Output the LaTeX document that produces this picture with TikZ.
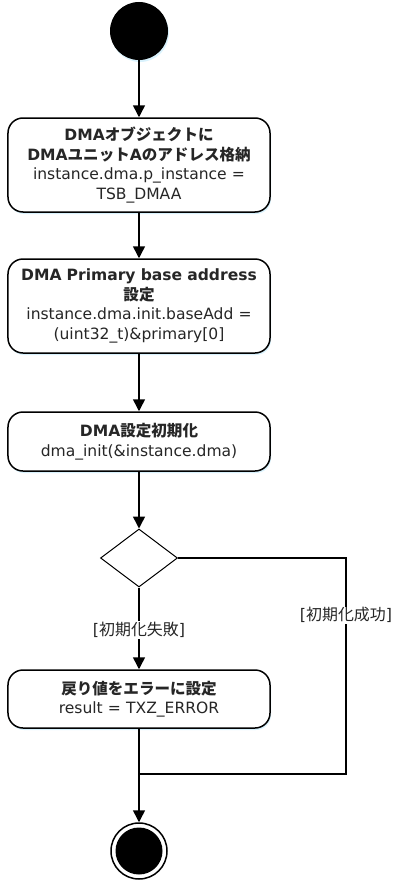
\documentclass[tikz,border=0pt]{standalone}
\usepackage{fontspec}
\setmainfont{DejaVu Sans}
\newfontfamily\jpfont{Noto Sans CJK JP}
\newcommand{\ja}[1]{{\jpfont #1}}
\usetikzlibrary{shapes.geometric,arrows.meta,shadows}

\begin{document}
\begin{tikzpicture}[x=1bp,y=-1bp,
	action/.style={shape=rectangle,rounded corners=15bp,draw=black,line width=1.5bp,fill=white,
		minimum width=262bp,text width=256bp,align=center,inner sep=0pt,
		font=\fontsize{15.6}{19.5}\selectfont,text=black!85,
		drop shadow={shadow xshift=1bp,shadow yshift=-2bp,fill=cyan!25!white,opacity=.6}},
	flow/.style={-{Triangle[length=12bp,width=12bp]},line width=1.5bp},
	guard/.style={fill=white,inner sep=1bp,font=\fontsize{16}{18}\selectfont,text=black!85}]
	
	\useasboundingbox (0,0) rectangle (395,881);
	
	\node[shape=circle,fill=black,minimum size=58bp,inner sep=0pt,
		drop shadow={shadow xshift=1bp,shadow yshift=-2bp,fill=cyan!25!white,opacity=.6}] (start) at (139,31) {};
	
	\node[action,minimum height=94bp] (objset) at (139,165)
		{\bfseries DMA\ja{オブジェクトに}\\DMA\ja{ユニット}A\ja{のアドレス格納}\\\mdseries instance.dma.p\_instance =\\TSB\_DMAA};
	\node[action,minimum height=94bp] (baseset) at (139,306)
		{\bfseries DMA Primary base address\\\ja{設定}\\\mdseries instance.dma.init.baseAdd =\\(uint32\_t)\&primary[0]};
	\node[action,minimum height=59bp] (dmainit) at (139,441.5)
		{\bfseries DMA\ja{設定初期化}\\\mdseries dma\_init(\&instance.dma)};
	\node[shape=diamond,draw=black,line width=1bp,minimum width=77bp,minimum height=58bp,inner sep=0pt] (decision) at (139,558) {};
	\node[action,minimum height=58bp] (errset) at (139,699)
		{\bfseries \ja{戻り値をエラーに設定}\\\mdseries result = TXZ\_ERROR};
	
	\node[shape=circle,draw=black,line width=1.5bp,minimum size=56bp,inner sep=0pt] (stop) at (139,851) {};
	\node[shape=circle,fill=black,minimum size=47bp,inner sep=0pt] (stopdot) at (139,851) {};
	
	\coordinate (okcorner) at (346,558);
	\coordinate (okjoin) at (346,774);
	\coordinate (merge) at (139,774);
	
	\draw[flow] (start) -- (objset);
	\draw[flow] (objset) -- (baseset);
	\draw[flow] (baseset) -- (dmainit);
	\draw[flow] (dmainit) -- (decision);
	\draw[flow] (decision) -- node[guard,pos=.52] {[\ja{初期化失敗}]} (errset);
	\draw[line width=1.5bp] (decision.east) -- (okcorner) -- node[guard,pos=.265] {[\ja{初期化成功}]} (okjoin) -- (merge);
	\draw[flow] (errset) -- (stop);
	
\end{tikzpicture}
\end{document}
